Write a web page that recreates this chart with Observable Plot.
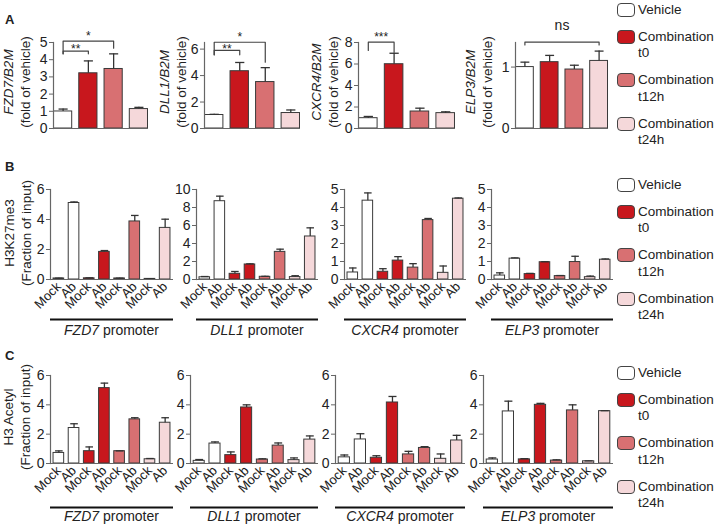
<!DOCTYPE html>
<html><head><meta charset="utf-8">
<script src="https://cdn.jsdelivr.net/npm/d3@7"></script>
<script src="https://cdn.jsdelivr.net/npm/@observablehq/plot@0.6"></script>
<style>
body{margin:0;background:#fff;font-family:"Liberation Sans",Arial,sans-serif;color:#222}
#fig{position:relative;width:717px;height:526px;overflow:hidden;background:#fff}
#fig svg g[aria-label="y-axis tick label"], #fig svg g[aria-label="y-axis tick label"] text{font-size:14px}
#fig svg g[aria-label="x-axis tick label"], #fig svg g[aria-label="x-axis tick label"] text{font-size:13px}
.ylab{position:absolute;white-space:nowrap;transform:translate(-50%,-50%) rotate(-90deg);text-align:center;font-size:13.5px;line-height:17px}
.letter{position:absolute;font-weight:bold;font-size:13px;line-height:13px}
.prom{position:absolute;transform:translate(-50%,-50%);font-size:14px;line-height:16px;white-space:nowrap}
.leg-item{position:absolute;left:617px;font-size:13.5px;line-height:16.5px;white-space:nowrap}
.leg-box{position:absolute;left:0;top:1px;width:16px;height:12px;border:1.3px solid #444;border-radius:4px}
.leg-text{position:absolute;left:21px;top:0}
</style></head><body><div id="fig"></div><script>
// ---------- data ----------
const groups = ["Vehicle", "Combination t0", "Combination t12h", "Combination t24h"];
const groupColors = ["#ffffff", "#c8171d", "#d87072", "#f5d8da"];
const genes = ["FZD7", "DLL1", "CXCR4", "ELP3"];
const chipLabels = ["Mock", "Ab"];

// Panel A: expression, fold of vehicle
const fzd7Expr = [0.99, 3.21, 3.46, 1.13];
const fzd7ExprErr = [0.14, 0.72, 0.88, 0.10];
const dll1Expr = [1.02, 4.33, 3.51, 1.17];
const dll1ExprErr = [0.05, 0.66, 1.09, 0.23];
const cxcr4Expr = [0.96, 5.98, 1.58, 1.43];
const cxcr4ExprErr = [0.16, 1.02, 0.31, 0.12];
const elp3Expr = [1.00, 1.08, 0.96, 1.10];
const elp3ExprErr = [0.08, 0.11, 0.07, 0.16];

// Panel B: H3K27me3 ChIP (Mock, Ab per group)
const fzd7K27 = [0.07, 5.10, 0.08, 1.84, 0.07, 3.87, 0.04, 3.44];
const fzd7K27Err = [0.02, 0.07, 0.03, 0.09, 0.02, 0.40, 0.01, 0.58];
const dll1K27 = [0.25, 8.70, 0.63, 1.67, 0.30, 3.07, 0.27, 4.78];
const dll1K27Err = [0.08, 0.56, 0.26, 0.07, 0.05, 0.30, 0.15, 0.96];
const cxcr4K27 = [0.39, 4.38, 0.43, 1.05, 0.66, 3.30, 0.37, 4.49];
const cxcr4K27Err = [0.25, 0.43, 0.17, 0.22, 0.22, 0.09, 0.38, 0.04];
const elp3K27 = [0.22, 1.16, 0.30, 0.96, 0.19, 0.97, 0.13, 1.10];
const elp3K27Err = [0.15, 0.04, 0.04, 0.03, 0.03, 0.32, 0.06, 0.04];

// Panel C: H3 acetyl ChIP
const fzd7Ac = [0.72, 2.42, 0.84, 5.14, 0.84, 3.01, 0.29, 2.78];
const fzd7AcErr = [0.14, 0.29, 0.29, 0.34, 0.02, 0.11, 0.05, 0.34];
const dll1Ac = [0.18, 1.36, 0.57, 3.82, 0.27, 1.22, 0.23, 1.63];
const dll1AcErr = [0.09, 0.11, 0.22, 0.18, 0.05, 0.18, 0.15, 0.25];
const cxcr4Ac = [0.42, 1.64, 0.39, 4.16, 0.62, 1.06, 0.32, 1.57];
const cxcr4AcErr = [0.16, 0.39, 0.14, 0.41, 0.21, 0.09, 0.33, 0.35];
const elp3Ac = [0.27, 3.55, 0.28, 4.00, 0.20, 3.62, 0.15, 3.57];
const elp3AcErr = [0.11, 0.70, 0.05, 0.10, 0.05, 0.38, 0.03, 0.03];

// significance brackets (bar indices, heights in data units)
const fzd7Sig = [
  {label: "**", from: 0, to: 1, y: 4.50, footFrom: 4.34, footTo: 4.34, labelY: 4.40},
  {label: "*", from: 0, to: 2, y: 5.08, footFrom: 4.34, footTo: 4.67, labelY: 5.16}
];
const dll1Sig = [
  {label: "**", from: 0, to: 1, y: 5.90, footFrom: 5.57, footTo: 5.57, labelY: 5.72},
  {label: "*", from: 0, to: 2, y: 6.52, footFrom: 5.57, footTo: 5.01, labelY: 6.63}
];
const cxcr4Sig = [
  {label: "***", from: 0, to: 1, y: 8.03, footFrom: 7.26, footTo: 7.10, labelY: 8.16}
];
const elp3Sig = [
  {label: "ns", from: 0, to: 3, y: 1.405, footFrom: 1.36, footTo: 1.36, labelY: 1.60}
];

// y ticks
const ticksA = [[0,1,2,3,4,5], [0,2,4,6], [0,2,4,6,8], [0,1]];
const ticksB = [[0,2,4,6], [0,2,4,6,8,10], [0,1,2,3,4,5], [0,1,2,3,4,5]];
const ticksC = [[0,2,4,6], [0,2,4,6], [0,2,4,6], [0,2,4,6]];
const domA = [5, 6.5, 8, 1.4];
const domB = [6, 10, 5, 5];
const domC = [6, 6, 6, 6];

// ---------- layout ----------
const fig = document.getElementById("fig");
const FONT = "Liberation Sans, Arial, sans-serif";

function drawPanel(p) {
  const ml = 34, mr = 6;
  const rows = p.values.map((v, i) => ({i, value: v, err: p.errs[i], color: p.colorOf(i)}));
  const marks = [
    Plot.rect(rows, {x1: d => d.i - p.half, x2: d => d.i + p.half, y1: d => 0, y2: "value",
      fill: "color", stroke: "#3a3a3a", strokeWidth: 1}),
    Plot.ruleX(rows, {x: "i", y1: "value", y2: d => d.value + d.err, stroke: "#333", strokeWidth: 1.3}),
    Plot.link(rows, {x1: d => d.i - p.cap, x2: d => d.i + p.cap,
      y1: d => d.value + d.err, y2: d => d.value + d.err, stroke: "#333", strokeWidth: 1.3}),
    Plot.ruleY([0], {stroke: "#666", strokeWidth: 1.2}),
    Plot.frame({anchor: "left", stroke: "#666", strokeWidth: 1.2}),
    Plot.axisY({ticks: p.ticks, tickFormat: d => String(d), tickSize: 4, tickPadding: 2,
      stroke: "#666", fill: "#222", fontSize: 14, label: null})
  ];
  if (p.xLabels) {
    marks.push(Plot.axisX({ticks: d3.range(p.values.length), tickFormat: i => chipLabels[i % 2],
      tickRotate: -45, tickSize: 0, tickPadding: 5, fontSize: 13, fill: "#222", label: null}));
  }
  if (p.underlineDy) {
    marks.push(Plot.ruleY([0], {dy: p.underlineDy, stroke: "#111", strokeWidth: 2}));
  }
  if (p.brackets) {
    const pts = p.brackets.flatMap((b, k) => [
      {k, x: b.from, y: b.footFrom}, {k, x: b.from, y: b.y}, {k, x: b.to, y: b.y}, {k, x: b.to, y: b.footTo}]);
    marks.push(Plot.line(pts, {x: "x", y: "y", z: "k", stroke: "#444", strokeWidth: 1.2}));
    marks.push(Plot.text(p.brackets, {x: d => (d.from + d.to) / 2, y: "labelY", text: "label",
      lineAnchor: "bottom", fontSize: p.sigSize || 12, fill: "#222"}));
  }
  const svg = Plot.plot({
    width: ml + (p.right - p.axisX) + mr,
    height: p.h,
    marginLeft: ml, marginRight: mr, marginTop: p.mt, marginBottom: p.mb,
    x: {domain: p.xdom, axis: p.xLabels ? undefined : null},
    y: {domain: [0, p.ymax]},
    style: {background: "transparent", overflow: "visible", fontFamily: FONT, fontSize: "12.5px", color: "#222"},
    marks
  });
  svg.style.position = "absolute";
  svg.style.left = (p.axisX - ml) + "px";
  svg.style.top = p.top + "px";
  fig.appendChild(svg);
  return svg;
}

function addDiv(cls, html, left, top) {
  const d = document.createElement("div");
  d.className = cls;
  d.innerHTML = html;
  d.style.left = left + "px";
  d.style.top = top + "px";
  fig.appendChild(d);
  return d;
}

// Row A
const exprVals = [fzd7Expr, dll1Expr, cxcr4Expr, elp3Expr];
const exprErrs = [fzd7ExprErr, dll1ExprErr, cxcr4ExprErr, elp3ExprErr];
const sigs = [fzd7Sig, dll1Sig, cxcr4Sig, elp3Sig];
const axA = [53, 204, 358, 515], rtA = [148, 300, 455, 608];
const ylabA = [16.5, 172.5, 325, 478.5];
genes.forEach((g, k) => {
  drawPanel({values: exprVals[k], errs: exprErrs[k], colorOf: i => groupColors[i],
    half: 0.36, cap: 0.18, xdom: [-0.38, 3.38], ticks: ticksA[k], ymax: domA[k],
    axisX: axA[k], right: rtA[k], top: 0, h: 145, mt: 42, mb: 17,
    brackets: sigs[k], sigSize: k === 3 ? 14 : 12});
  addDiv("ylab", `<i>${g}/B2M</i><br>(fold of vehicle)`, ylabA[k], 82);
});

// Rows B and C
const k27Vals = [fzd7K27, dll1K27, cxcr4K27, elp3K27];
const k27Errs = [fzd7K27Err, dll1K27Err, cxcr4K27Err, elp3K27Err];
const acVals = [fzd7Ac, dll1Ac, cxcr4Ac, elp3Ac];
const acErrs = [fzd7AcErr, dll1AcErr, cxcr4AcErr, elp3AcErr];
const axB = [50, 196, 344, 491], rtB = [173, 318, 466, 613];
const axC = [50, 190, 335, 483], rtC = [173, 318, 465, 613];
genes.forEach((g, k) => {
  drawPanel({values: k27Vals[k], errs: k27Errs[k], colorOf: i => groupColors[Math.floor(i / 2)],
    half: 0.35, cap: 0.25, xdom: [-0.55, 7.55], ticks: ticksB[k], ymax: domB[k],
    axisX: axB[k], right: rtB[k], top: 150, h: 190, mt: 39, mb: 61, xLabels: true, underlineDy: 40});
  addDiv("prom", `<i>${g}</i> promoter`, (axB[k] + rtB[k]) / 2, 330);
  drawPanel({values: acVals[k], errs: acErrs[k], colorOf: i => groupColors[Math.floor(i / 2)],
    half: 0.35, cap: 0.25, xdom: [-0.55, 7.55], ticks: ticksC[k], ymax: domC[k],
    axisX: axC[k], right: rtC[k], top: 340, h: 186, mt: 35, mb: 63, xLabels: true, underlineDy: 44});
  addDiv("prom", `<i>${g}</i> promoter`, (axC[k] + rtC[k]) / 2, 516);
});
addDiv("ylab", "H3K27me3<br>(Fraction of input)", 18, 233);
addDiv("ylab", "H3 Acetyl<br>(Fraction of input)", 17, 417);

// Panel letters
addDiv("letter", "A", 5, 13);
addDiv("letter", "B", 5, 160);
addDiv("letter", "C", 5, 349);

// Legends
[0, 175, 363].forEach(off => {
  groups.forEach((g, i) => {
    const top = off + 1.75 + (i === 0 ? 0 : 27 + (i - 1) * 43.5);
    const item = addDiv("leg-item", "", 617, top);
    const box = document.createElement("div");
    box.className = "leg-box";
    box.style.background = groupColors[i];
    item.appendChild(box);
    const t = document.createElement("div");
    t.className = "leg-text";
    t.innerHTML = g.replace(" ", "<br>");
    item.appendChild(t);
  });
});
</script></body></html>
